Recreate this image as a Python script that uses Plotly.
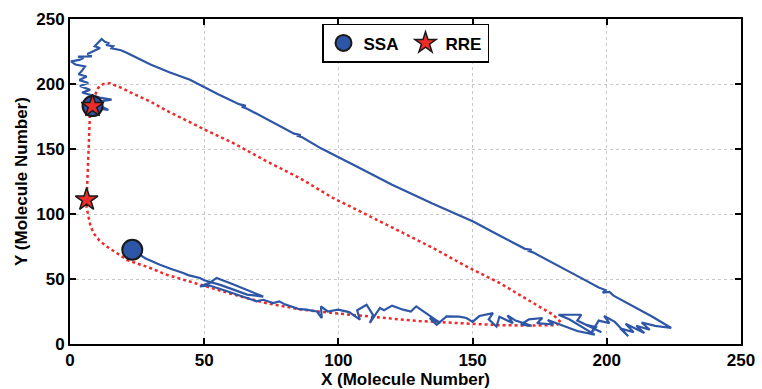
import plotly.graph_objects as go

# SSA stochastic trajectory (X, Y molecule numbers)
ssa_x = [8.4, 11, 14.3, 12, 9.5, 12.5, 15.5, 11, 7.4, 4.5, 7.5, 3.7, 6.8, 3.5, 6.2, 3.2, 4.3, 5.6, 2, 0.4,
         3.5, 5, 3, 8.1, 6.5, 8.7, 11.2, 9.2, 10.5, 11.8, 13, 14.3, 13.5, 16.1, 15.5, 19, 21.1,
         30, 37, 44.7, 55, 63, 65.5, 64, 66, 75, 83.5, 86, 84.5, 86.5, 93.5, 105, 120, 135, 150.2,
         160, 169.5, 172, 170.5, 172.5, 180, 189.3, 197, 199.5, 198.5, 201, 202.5, 210, 217, 224,
         218, 213, 216, 211, 214, 207, 210, 205, 208, 203, 199, 201, 197, 194, 196, 192, 198, 189, 190.5,
         182, 186, 195.5, 189, 184, 178, 180, 174, 176, 171, 168, 172, 166, 163, 165, 160, 158.9, 156,
         157.6, 152.5, 150, 147.7, 145, 140.3, 136.6, 134, 138, 131, 129, 127, 124.1, 120, 117, 115.5,
         111.7, 113, 110.5, 107, 108, 104, 99.9, 96, 93.5, 93.8, 92, 88, 85, 80, 78, 75.7, 72, 69.5, 64,
         58, 52, 48.4, 52, 54.6, 60, 67, 72, 66, 60.8, 56, 50, 48.4, 44, 42.2, 38, 33.5, 28, 23.2]
ssa_y = [183, 181, 180, 182.5, 185, 187, 188, 189.5, 191.8, 193.5, 195.5, 198.5, 200.8, 203, 205.8, 207.5,
         209.7, 213.5, 215, 217.4, 218.5, 220, 221, 221.3, 223, 225, 227.7, 229, 231.5, 234.6, 232.5,
         231.5, 230, 229, 227.5, 226, 224,
         215, 209, 203.3, 192.3, 184.5, 183.2, 182.5, 181, 171, 161.8, 160.8, 160.2, 159, 150.5, 138.4,
         122.5, 108, 94.3, 83.5, 73.2, 72.5, 71.8, 70.5, 62, 52, 43.5, 41.5, 39.5, 40, 37.2, 29, 21, 12.3,
         14, 16.5, 11, 14, 8.5, 15.5, 9, 12, 6, 17, 21.5, 16, 18, 8, 13, 15, 9, 18, 22.5,
         22.5, 19, 7.2, 10, 14, 18.5, 15, 16, 20, 19, 15, 14, 18, 22, 16, 21, 13.5, 19,
         23.8, 21.5, 17, 20, 21, 21.2, 14.8, 20, 16, 26, 29, 25, 26.4, 29.5, 26, 27.7,
         16.2, 22, 30.2, 26, 18.7, 24.5, 26.4, 25, 28.9, 20, 25, 26.5, 27, 30.5, 32.8, 31.5, 34, 32.8, 37,
         41, 45, 44.3, 47, 50.8, 46.5, 40.5, 36.5, 38, 41.8, 45.5, 49, 50.8, 53, 54.6, 57.5, 61, 66, 72.5]

# RRE deterministic trajectory
rre_x = [8.4, 9, 10.5, 12.4, 15, 18.6, 23.6, 29.8, 36, 42.2, 50.3, 60.8, 73.3, 85.7, 98, 110.5, 122.9,
         135.3, 147.7, 160.1, 172.6, 180, 183, 181, 170, 160, 150, 140, 130, 120, 110, 98, 86, 73, 61,
         48.4, 36, 29.8, 24, 21.1, 17.4, 13.7, 11, 8.7, 7.5, 6.8, 6.2, 6.2, 6.8, 7.4, 8.4]
rre_y = [183, 190, 197, 200, 200.5, 197.5, 192.5, 186.6, 179.5, 173, 164.8, 154.6, 140.5, 127.5, 112.3,
         99.5, 86.6, 73.8, 59.7, 46.9, 31.5, 22.5, 16.5, 14.5, 14.2, 14.5, 15.5, 16.5, 17.7, 19.5, 21.2,
         23.8, 26.5, 31.5, 38, 45.6, 53.3, 58.5, 62.5, 64.8, 70, 75, 79.5, 85.4, 92, 98, 105, 111, 139,
         175, 183]

ssa_marker_x = [8.4, 23.2]
ssa_marker_y = [183, 72.5]
rre_marker_x = [8.4, 6.2]
rre_marker_y = [183, 111]

x_ticks = [0, 50, 100, 150, 200, 250]
y_ticks = [0, 50, 100, 150, 200, 250]

BLUE = "#2E56A6"
RED = "#EE2A2A"
FONT = "Liberation Sans, Arial, sans-serif"

fig = go.Figure()
fig.add_trace(go.Scatter(x=rre_x, y=rre_y, mode="lines",
                         line=dict(color=RED, width=2.5, dash="dot"), showlegend=False))
fig.add_trace(go.Scatter(x=ssa_x, y=ssa_y, mode="lines",
                         line=dict(color=BLUE, width=2.2), showlegend=False))
fig.add_trace(go.Scatter(x=ssa_marker_x, y=ssa_marker_y, mode="markers", name="SSA",
                         marker=dict(symbol="circle", size=20, color=BLUE,
                                     line=dict(color="#1a1a1a", width=2))))
fig.add_trace(go.Scatter(x=rre_marker_x, y=rre_marker_y, mode="markers", name="RRE",
                         marker=dict(symbol="star", size=17, color=RED,
                                     line=dict(color="#1a1a1a", width=1.5))))

axis_common = dict(
    showline=True, linecolor="black", linewidth=2, mirror="ticks",
    ticks="inside", ticklen=6, tickwidth=2, tickcolor="black",
    showgrid=True, gridcolor="#C8C8C8", gridwidth=1, griddash="dot",
    zeroline=False, automargin=False,
    tickfont=dict(family=FONT, size=17, color="black", weight="bold"),
)

fig.update_layout(
    width=762, height=389,
    margin=dict(l=70, r=21, t=19, b=45),
    paper_bgcolor="white", plot_bgcolor="white",
    font=dict(family=FONT, color="black"),
    xaxis=dict(range=[0, 250], tickvals=x_ticks, ticktext=[str(v) for v in x_ticks],
               title=dict(text="X (Molecule Number)", standoff=0,
                          font=dict(family=FONT, size=17, color="black", weight="bold")),
               **axis_common),
    yaxis=dict(range=[0, 250], tickvals=y_ticks, ticktext=[str(v) for v in y_ticks],
               title=dict(text="Y (Molecule Number)", standoff=4,
                          font=dict(family=FONT, size=17, color="black", weight="bold")),
               **axis_common),
    legend=dict(orientation="h", x=0.5, xanchor="center", y=0.985, yanchor="top",
                bgcolor="white", bordercolor="black", borderwidth=1.5,
                font=dict(family=FONT, size=17, color="black", weight="bold"),
                itemwidth=30, tracegroupgap=0, entrywidth=37, entrywidthmode="pixels"),
)

fig.write_html("out.html")
